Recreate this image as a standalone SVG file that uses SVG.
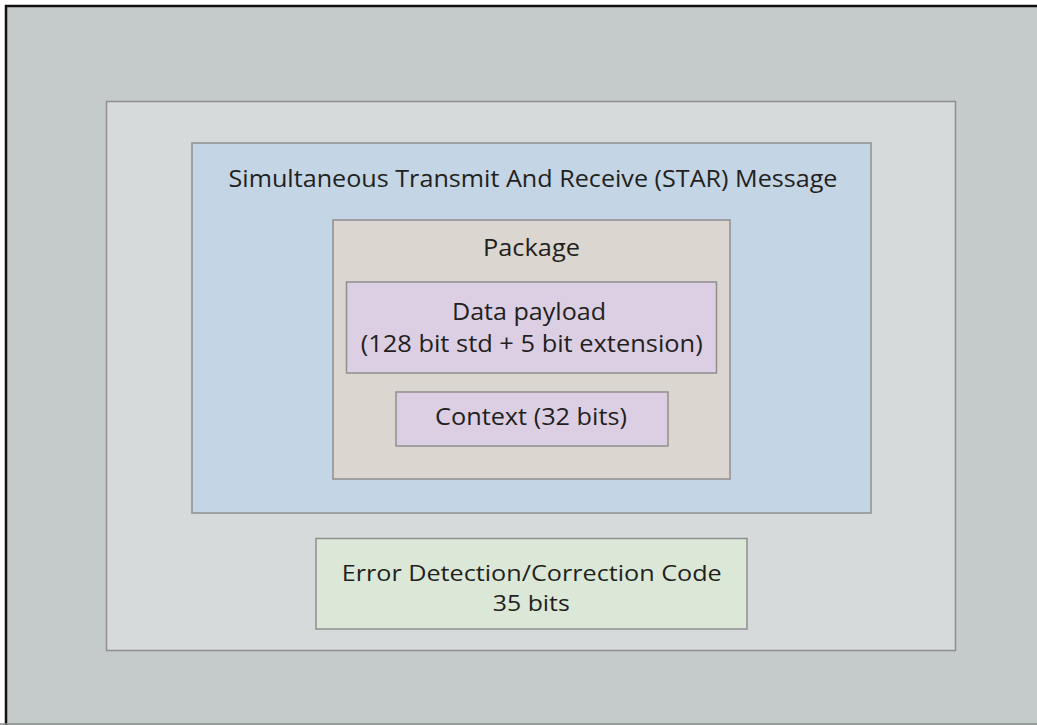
<svg xmlns="http://www.w3.org/2000/svg" width="1037" height="725" viewBox="0 0 1037 725">
<style>
  .box { stroke: #8f8f8f; stroke-width: 1.5; }
  .t { font-family: "Open Sans", "Liberation Sans", sans-serif; font-size: 24px; fill: #231f20; text-anchor: middle; }
  .s { font-size: 22px; }
</style>
<rect x="0" y="0" width="1037" height="725" fill="#ffffff"/>
<g id="frame">
  <rect x="6" y="6" width="1040" height="730" fill="#c5cbca" stroke="#111111" stroke-width="2.5"/>
  <line x1="0" y1="724" x2="1037" y2="724" stroke="#8a8a8a" stroke-width="1.5"/>
</g>
<g id="transmission">
  <rect class="box" x="106.5" y="101.5" width="849" height="549" fill="#d6dadb"/>
</g>
<g id="star-message">
  <rect class="box" x="192" y="143" width="679" height="370" fill="#c4d5e5"/>
  <text class="t" x="533" y="187" textLength="609" lengthAdjust="spacingAndGlyphs">Simultaneous Transmit And Receive (STAR) Message</text>
</g>
<g id="package">
  <rect class="box" x="333" y="220" width="397" height="259" fill="#dbd7d0"/>
  <text class="t" x="531.5" y="256" textLength="97" lengthAdjust="spacingAndGlyphs">Package</text>
</g>
<g id="data-payload">
  <rect class="box" x="346.5" y="282" width="370" height="91" fill="#dccfe3"/>
  <text class="t" x="529" y="320" textLength="154" lengthAdjust="spacingAndGlyphs">Data payload</text>
  <text class="t" x="531.7" y="351.7" textLength="342" lengthAdjust="spacingAndGlyphs">(128 bit std + 5 bit extension)</text>
</g>
<g id="context">
  <rect class="box" x="396" y="392" width="272" height="54" fill="#dccfe3"/>
  <text class="t" x="531" y="425" textLength="192" lengthAdjust="spacingAndGlyphs">Context (32 bits)</text>
</g>
<g id="ecc">
  <rect class="box" x="316" y="538.5" width="431" height="90.5" fill="#dbe8d7"/>
  <text class="t s" x="531.7" y="581" textLength="380" lengthAdjust="spacingAndGlyphs">Error Detection/Correction Code</text>
  <text class="t s" x="531.3" y="611" textLength="77" lengthAdjust="spacingAndGlyphs">35 bits</text>
</g>
<g id="connectors"></g>
</svg>
